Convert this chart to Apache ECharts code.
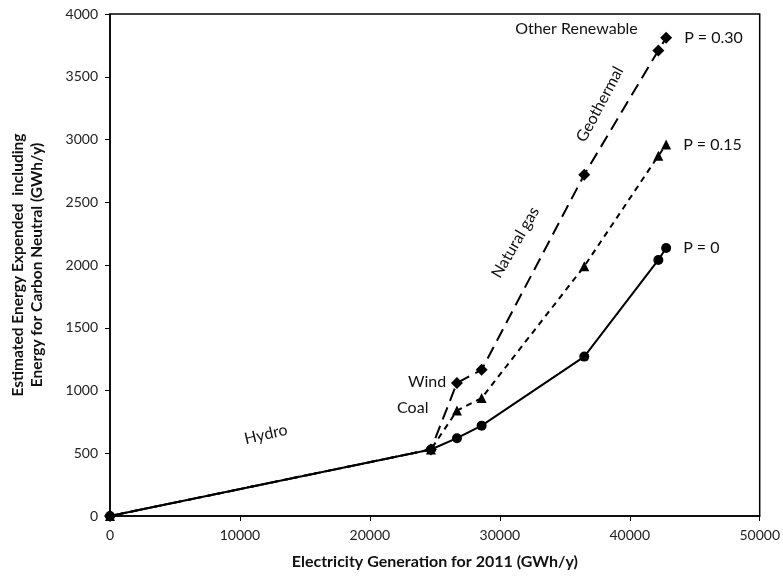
<!DOCTYPE html>
<html>
<head>
<meta charset="utf-8">
<script src="https://cdn.jsdelivr.net/npm/echarts@6/dist/echarts.min.js"></script>
<style>
  html, body { margin: 0; padding: 0; background: #fff; }
  #chart { width: 783px; height: 577px; }
</style>
</head>
<body>
<div id="chart"></div>
<script>
// generation (GWh/y), cumulative by source
const generation = [0, 24700, 26700, 28600, 36500, 42200, 42800];
// energy expended for each P value
const energyP0 = [0, 530, 620, 720, 1270, 2040, 2135];
const energyP15 = [0, 530, 840, 940, 1990, 2870, 2960];
const energyP30 = [0, 530, 1060, 1165, 2720, 3710, 3810];

// source labels along the curves
const sourceNames = ['Hydro', 'Coal', 'Wind', 'Natural gas', 'Geothermal', 'Other Renewable'];
const sourceX = [12000, 23300, 24400, 31200, 37700, 35900];
const sourceY = [650, 860, 1070, 2180, 3280, 3880];
const sourceAngle = [13, 0, 0, 60, 62, 0];

const chart = echarts.init(document.getElementById('chart'));
const font = 'Lato, "Open Sans", sans-serif';

function pairs(ys) {
  return generation.map((x, i) => [x, ys[i]]);
}

function lineSeries(name, ys, symbol, size, dash, tag) {
  const data = pairs(ys);
  // label only the final point
  data[data.length - 1] = {
    value: data[data.length - 1],
    label: { show: true, position: 'right', distance: 12, formatter: tag,
             color: '#111', fontSize: 16, fontFamily: font }
  };
  return {
    name: name,
    type: 'line',
    data: data,
    symbol: symbol,
    symbolSize: size,
    showAllSymbol: true,
    itemStyle: { color: '#000' },
    lineStyle: { color: '#000', width: 2, type: dash },
    z: 3
  };
}

chart.setOption({
  animation: false,
  grid: {
    left: 108, right: 21, top: 14, bottom: 61,
    show: true, borderColor: '#000', borderWidth: 1.5
  },
  xAxis: {
    type: 'value',
    min: 0, max: 50000, interval: 10000,
    name: 'Electricity Generation for 2011 (GWh/y)',
    nameLocation: 'middle',
    nameGap: 38,
    nameTextStyle: { fontWeight: 'bold', fontSize: 16, color: '#111', fontFamily: font },
    axisLine: { lineStyle: { color: '#000', width: 1.5 } },
    axisTick: { show: true, length: 5, lineStyle: { color: '#000' } },
    axisLabel: { color: '#222', fontSize: 14, margin: 12, fontFamily: font, formatter: v => String(v) },
    splitLine: { show: false }
  },
  yAxis: {
    type: 'value',
    min: 0, max: 4000, interval: 500,
    name: 'Estimated Energy Expended  including\nEnergy for Carbon Neutral (GWh/y)',
    nameLocation: 'middle',
    nameGap: 64,
    nameTextStyle: { fontWeight: 'bold', fontSize: 15.5, color: '#111', fontFamily: font, lineHeight: 19 },
    axisLine: { show: true, lineStyle: { color: '#000', width: 1.5 } },
    axisTick: { show: true, length: 5, lineStyle: { color: '#000' } },
    axisLabel: { color: '#222', fontSize: 14, margin: 12, fontFamily: font, formatter: v => String(v) },
    splitLine: { show: false }
  },
  series: [
    lineSeries('P = 0', energyP0, 'circle', 10, 'solid', 'P = 0'),
    lineSeries('P = 0.15', energyP15, 'triangle', 10, [6, 5], 'P = 0.15'),
    lineSeries('P = 0.30', energyP30, 'diamond', 12, [13, 7], 'P = 0.30'),
    {
      name: 'sources',
      type: 'scatter',
      symbolSize: 1,
      silent: true,
      itemStyle: { opacity: 0 },
      labelLayout: { hideOverlap: false },
      data: sourceNames.map((n, i) => ({
        value: [sourceX[i], sourceY[i]],
        label: {
          show: true, position: 'inside', formatter: n, rotate: sourceAngle[i],
          color: '#111', fontSize: 16, fontFamily: font,
          textBorderWidth: 0, opacity: 1
        }
      }))
    }
  ]
});
</script>
</body>
</html>
